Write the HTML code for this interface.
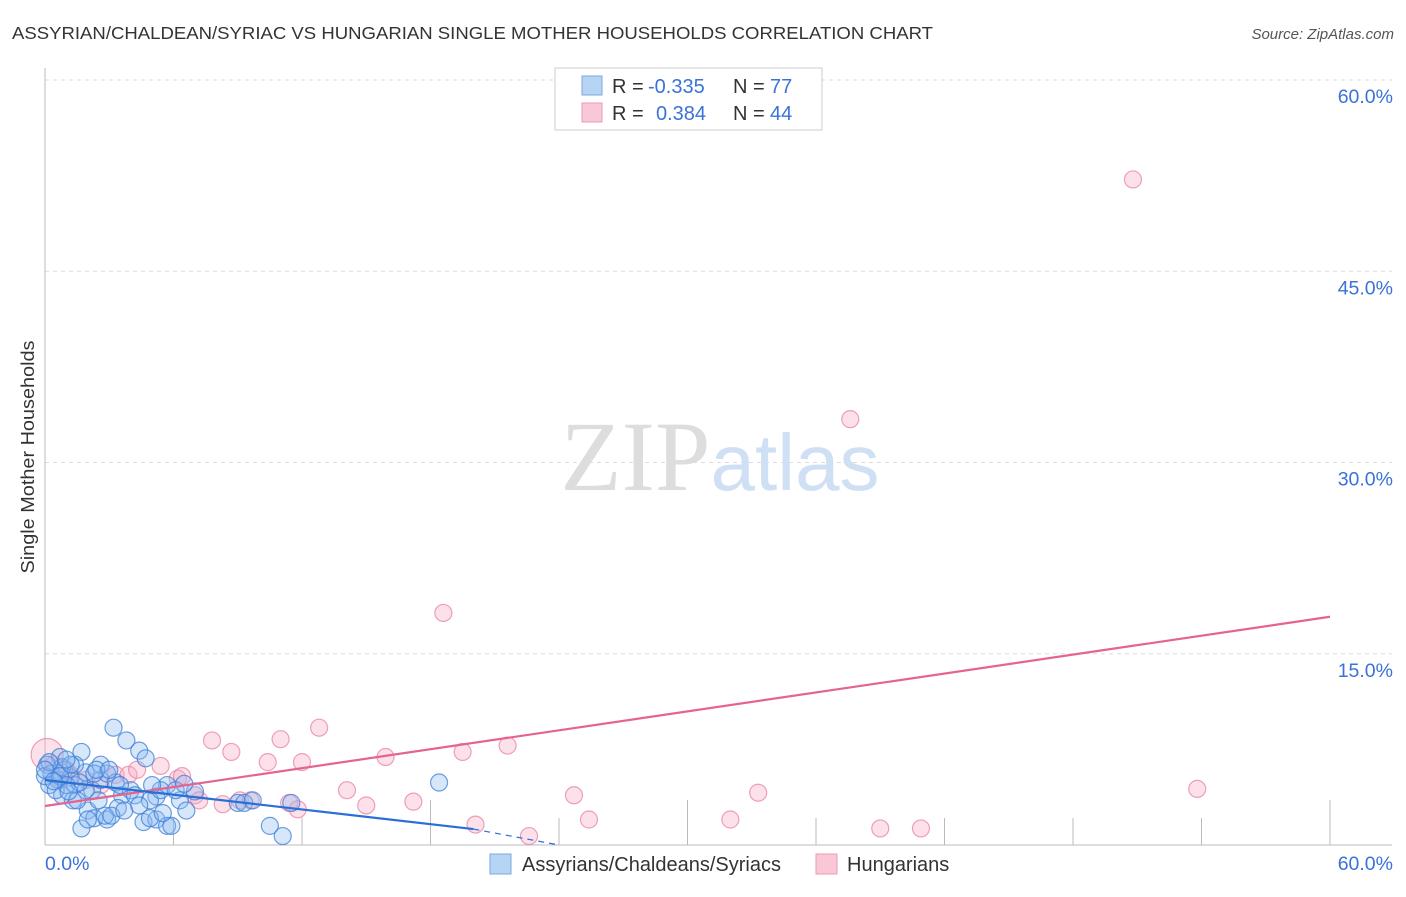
<!DOCTYPE html>
<html><head><meta charset="utf-8">
<style>
body{margin:0;background:#fff;font-family:"Liberation Sans",sans-serif;}
svg text{font-family:"Liberation Sans",sans-serif;}
</style></head>
<body>
<svg id="chart" width="1406" height="892" xmlns="http://www.w3.org/2000/svg">
<text x="12" y="39" font-size="17.5" fill="#333" textLength="921" lengthAdjust="spacingAndGlyphs">ASSYRIAN/CHALDEAN/SYRIAC VS HUNGARIAN SINGLE MOTHER HOUSEHOLDS CORRELATION CHART</text>
<text x="1394" y="39" font-size="15" fill="#555" font-style="italic" text-anchor="end">Source: ZipAtlas.com</text>
<text transform="translate(34,457) rotate(-90)" font-size="18.5" fill="#333" text-anchor="middle" textLength="233" lengthAdjust="spacingAndGlyphs">Single Mother Households</text>
<g id="grid"></g>
<text x="720" y="490" font-size="100" text-anchor="middle" font-family="Liberation Serif" fill="#ddd"><tspan font-family="Liberation Serif">ZIP</tspan><tspan font-family="Liberation Sans" fill="#cfe0f5" font-size="80">atlas</tspan></text>
<g id="points"></g>
<g id="lines"></g>
<g>
<rect x="555" y="68" width="267" height="62" fill="#fff" stroke="#ccc"/>
<rect x="582" y="76" width="20" height="19" fill="#b8d4f5" stroke="#7aa8e0"/>
<rect x="582" y="103" width="20" height="19" fill="#f9c8d6" stroke="#ee9ab3"/>
<text x="612" y="93" font-size="20" fill="#333">R = </text><text x="648" y="93" font-size="20" fill="#3a72d8">-0.335</text>
<text x="733" y="93" font-size="20" fill="#333">N = </text><text x="770" y="93" font-size="20" fill="#3a72d8">77</text>
<text x="612" y="120" font-size="20" fill="#333">R = </text><text x="656" y="120" font-size="20" fill="#3a72d8">0.384</text>
<text x="733" y="120" font-size="20" fill="#333">N = </text><text x="770" y="120" font-size="20" fill="#3a72d8">44</text>
</g>
<g>
<rect x="490" y="854" width="21" height="20" fill="#b8d4f5" stroke="#7aa8e0"/>
<text x="522" y="871" font-size="20" fill="#333">Assyrians/Chaldeans/Syriacs</text>
<rect x="816" y="854" width="21" height="20" fill="#f9c8d6" stroke="#ee9ab3"/>
<text x="847" y="871" font-size="20" fill="#333">Hungarians</text>
</g>
</svg>
<script>
const yTicks=[15,30,45,60];
const yTickLabels=["15.0%","30.0%","45.0%","60.0%"];
const blueX=[3.2,3.8,4.4,1.7,4.7,0.7,0.1,0.3,0.6,0.9,1.2,1.4,1.9,2.2,2.6,2.9,3.3,3.6,4.0,0.8,1.3,2.0,2.3,2.9,1.7,3.4,4.6,5.2,5.7,5.9,5.2,5.7,6.3,6.6,7.0,9.0,9.3,9.7,11.5,10.5,11.1,18.4,0.2,0.5,0.0,0.8,1.4,1.9,2.5,2.8,2.0,0.7,1.0,1.6,3.5,4.2,4.9,5.4,6.1,0.2,0.0,1.5,3.1,3.7,4.9,2.6,2.3,1.2,4.4,5.5,6.5,1.0,0.4,2.4,3.0,1.1,5.0];
const blueY=[9.2,8.2,7.4,7.3,6.8,6.9,6.3,5.6,5.1,5.9,5.3,4.7,5.7,4.3,5.1,5.6,4.9,3.9,4.3,3.9,3.5,2.7,2.1,2.0,1.3,2.9,1.8,2.0,1.5,1.5,3.8,4.7,3.5,2.7,4.2,3.3,3.3,3.5,3.3,1.5,0.7,4.9,4.7,4.3,5.4,6.1,6.3,4.3,3.5,2.3,2.0,5.4,4.7,4.9,4.7,3.9,3.5,4.3,4.3,6.5,5.9,3.5,2.3,2.7,2.1,6.3,5.6,6.3,3.1,2.5,4.8,6.7,5.0,5.9,5.9,4.2,4.7];
const pinkX=[0.1,0.4,0.7,1.2,1.9,2.6,3.3,3.9,4.3,5.4,6.2,6.4,7.0,7.2,7.8,8.7,8.3,10.4,11.0,12.0,12.8,14.1,15.0,15.9,17.2,18.6,19.5,21.6,20.1,22.6,24.7,25.4,32.0,33.3,37.6,39.0,40.9,50.8,53.8,9.1,9.6,11.4,11.8,1.0];
const pinkY=[7.1,6.3,5.1,5.5,5.1,4.7,5.5,5.5,5.9,6.2,5.2,5.4,3.9,3.5,8.2,7.3,3.2,6.5,8.3,6.5,9.2,4.3,3.1,6.9,3.4,18.2,7.3,7.8,1.6,0.7,3.9,2.0,2.0,4.1,33.4,1.3,1.3,52.2,4.4,3.5,3.5,3.3,2.8,5.9];
const blueLine=[[0,5.1],[20,1.25]];
const blueDash=[[20,1.25],[24,0]];
const pinkLine=[[0,3.06],[60,17.9]];
const NS="http://www.w3.org/2000/svg";
const X=v=>45+v/60*1285, Y=v=>845-v*12.75;
function mk(t,a,p){const e=document.createElementNS(NS,t);for(const k in a)e.setAttribute(k,a[k]);p.appendChild(e);return e;}
const grid=document.getElementById('grid');
yTicks.forEach((t,i)=>{
 const l=mk('line',{x1:45,x2:1392,y1:Y(t),y2:Y(t),stroke:'#ddd','stroke-dasharray':'4,4'},grid);
 
 
 const tx=mk('text',{x:1393,y:Y(t)+23,'font-size':19.5,fill:'#3a72d8','text-anchor':'end'},grid);
 tx.textContent=yTickLabels[i];
 
 
});
const ax=mk('line',{x1:45,x2:45,y1:68,y2:845,stroke:'#bbb'},grid);


const bx=mk('line',{x1:45,x2:1392,y1:845,y2:845,stroke:'#bbb'},grid);


for(let i=1;i<=10;i++){
 const tall=(i==3||i==5||i==10);
 const tk=mk('line',{x1:X(i*6),x2:X(i*6),y1:tall?800:818,y2:845,stroke:'#bbb'},grid);
 
 
}
const xl0=mk('text',{x:45,y:870,'font-size':19.5,fill:'#3a72d8'},grid);xl0.textContent='0.0%';


const xl1=mk('text',{x:1393,y:870,'font-size':19.5,fill:'#3a72d8','text-anchor':'end'},grid);xl1.textContent='60.0%';


const pts=document.getElementById('points');
pinkX.forEach((x,i)=>{
 const c=mk('circle',{cx:X(x),cy:Y(pinkY[i]),r:i==0?16:8.5,fill:'rgba(246,170,195,0.35)',stroke:'rgba(232,130,165,0.75)','stroke-width':1.2},pts);
 
 
});
blueX.forEach((x,i)=>{
 const c=mk('circle',{cx:X(x),cy:Y(blueY[i]),r:8.5,fill:'rgba(140,185,240,0.35)',stroke:'rgba(60,125,215,0.75)','stroke-width':1.2},pts);
 
 
});
const lines=document.getElementById('lines');
const pl=mk('line',{x1:X(pinkLine[0][0]),y1:Y(pinkLine[0][1]),x2:X(pinkLine[1][0]),y2:Y(pinkLine[1][1]),stroke:'#e5648f','stroke-width':2.2},lines);


const bl=mk('line',{x1:X(blueLine[0][0]),y1:Y(blueLine[0][1]),x2:X(blueLine[1][0]),y2:Y(blueLine[1][1]),stroke:'#2a6fd6','stroke-width':2.2},lines);


const bd=mk('line',{x1:X(blueDash[0][0]),y1:Y(blueDash[0][1]),x2:X(blueDash[1][0]),y2:Y(blueDash[1][1]),stroke:'#2a6fd6','stroke-width':1.2,'stroke-dasharray':'6,5'},lines);


</script>
</body></html>
